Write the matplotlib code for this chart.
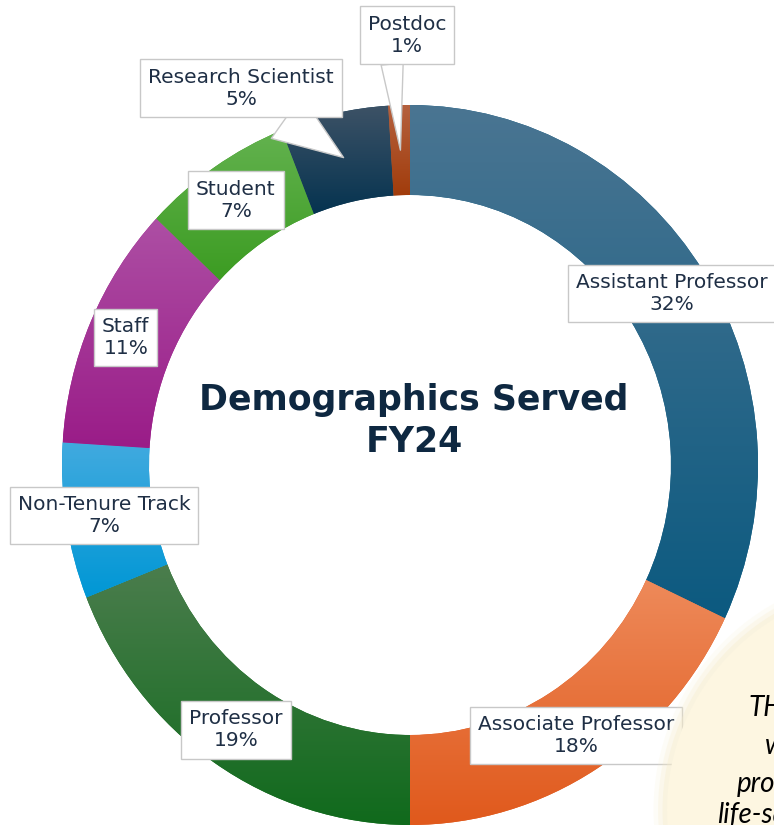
import numpy as np
import matplotlib.pyplot as plt
from matplotlib.colors import LinearSegmentedColormap
from matplotlib.patches import Ellipse

# data
labels = ["Assistant Professor", "Associate Professor", "Professor", "Non-Tenure Track",
          "Staff", "Student", "Research Scientist", "Postdoc"]
values = [32, 18, 19, 7, 11, 7, 5, 1]
top_colors = ["#4a7592", "#ee8a5a", "#4b7d4d", "#41aadf", "#ad4fa4", "#63b24f", "#3d5266", "#b5613f"]
bottom_colors = ["#0c5a80", "#e0591c", "#106a1c", "#0097d5", "#9a1c88", "#3c9c22", "#053350", "#a13c0b"]
title = "Demographics Served\nFY24"

W, H = 774, 825
CX, CY = 410, 465      # ring center in pixels
RX, RY = 348, 360      # ring outer radius in pixels (slightly stretched)

fig = plt.figure(figsize=(W / 100, H / 100), dpi=100)
ax = fig.add_axes([0, 0, 1, 1])


def px(x, y):
    # pixel position (from top-left) -> data coords
    return (x - CX) / RX, (CY - y) / RY


wedges, _ = ax.pie(values, startangle=90, counterclock=False, radius=1,
                   wedgeprops=dict(width=0.25, linewidth=0))

# vertical gradient inside each wedge
grad = np.linspace(0, 1, 256).reshape(-1, 1)
for w, ct, cb in zip(wedges, top_colors, bottom_colors):
    w.set_facecolor(cb)
    bb = w.get_path().get_extents()
    cmap = LinearSegmentedColormap.from_list("g", [cb, ct])
    im = ax.imshow(grad, extent=(bb.x0, bb.x1, bb.y0, bb.y1), origin="lower",
                   cmap=cmap, aspect="auto", interpolation="bicubic", zorder=1.5)
    im.set_clip_path(w)

ax.set_aspect("auto")
ax.set_xlim(-CX / RX, (W - CX) / RX)
ax.set_ylim(-(H - CY) / RY, CY / RY)
ax.axis("off")

box = dict(boxstyle="square,pad=0.4", fc="white", ec="#c8c8c8", lw=1.0)
txt_color = "#1f2f45"
fs = 14.5

total = sum(values)
start = 0.0
callouts = {"Research Scientist": ((241, 88), (0.68, 0.0), 2.6),
            "Postdoc": ((407, 35), (0.3, 0.0), 1.1)}
for lab, v in zip(labels, values):
    mid = (start + v / 2) / total * 2 * np.pi
    start += v
    text = f"{lab}\n{v}%"
    if lab in callouts:
        pos, rel, tw = callouts[lab]
        tip = (0.875 * np.sin(mid), 0.875 * np.cos(mid))
        ax.annotate(text, xy=tip, xytext=px(*pos), ha="center", va="center",
                    fontsize=fs, color=txt_color, bbox=box, zorder=5,
                    arrowprops=dict(arrowstyle=f"wedge,tail_width={tw}", fc="white",
                                    ec="#c8c8c8", lw=1.0, relpos=rel,
                                    shrinkA=0, shrinkB=0))
    else:
        ax.text(0.89 * np.sin(mid), 0.89 * np.cos(mid), text, ha="center", va="center",
                fontsize=fs, color=txt_color, bbox=box, zorder=5)

ax.text(*px(414, 421), title, ha="center", va="center", fontsize=25,
        fontweight="bold", color="#0e2841", linespacing=1.3, zorder=6)

# cream note circle at lower right (clipped by the figure edge, as in the source)
for k, a in zip([1.06, 1.04, 1.02], [0.15, 0.25, 0.35]):
    ax.add_patch(Ellipse(px(891, 810), 2 * 224 * k / RX, 2 * 224 * k / RY,
                         fc="#f6eccb", ec="none", alpha=a, zorder=7))
ax.add_patch(Ellipse(px(891, 810), 2 * 224 / RX, 2 * 224 / RY,
                     fc="#fdf6e1", ec="none", zorder=7))
note_lines = [("THE", 748, 708), ("we", 765, 746), ("proper", 737, 784), ("life-saving", 717, 815)]
for s, x, y in note_lines:
    ax.text(*px(x, y), s, ha="left", va="center", fontsize=20, style="italic",
            family="Lato", color="black", zorder=8)

fig.savefig("out.png", dpi=100)
